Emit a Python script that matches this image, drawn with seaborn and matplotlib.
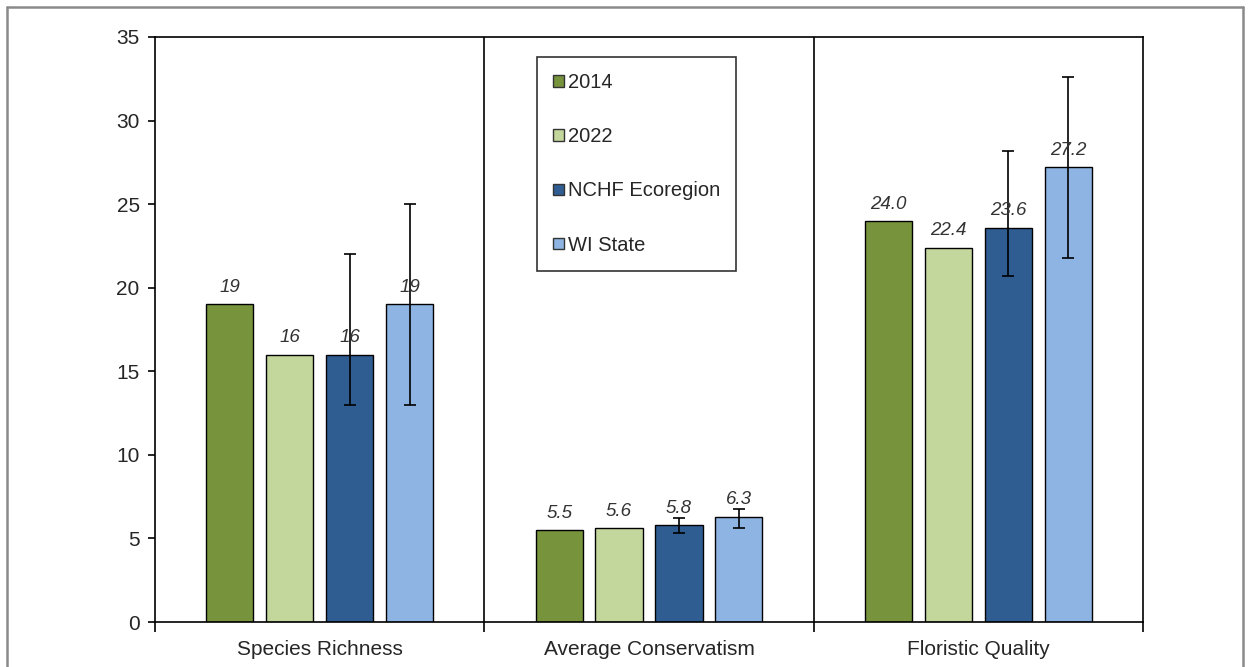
import matplotlib
matplotlib.use("Agg")
import matplotlib.pyplot as plt
import seaborn as sns
import pandas as pd
import numpy as np
from matplotlib.lines import Line2D

categories = ["Species Richness", "Average Conservatism", "Floristic Quality"]
series = ["2014", "2022", "NCHF Ecoregion", "WI State"]
values_2014 = [19, 5.5, 24.0]
values_2022 = [16, 5.6, 22.4]
values_nchf = [16, 5.8, 23.6]
values_wi = [19, 6.3, 27.2]
labels_2014 = ["19", "5.5", "24.0"]
labels_2022 = ["16", "5.6", "22.4"]
labels_nchf = ["16", "5.8", "23.6"]
labels_wi = ["19", "6.3", "27.2"]
# error bar extents (lower, upper) for the reference series
err_nchf_low = [3, 0.45, 2.9]
err_nchf_high = [6, 0.45, 4.6]
err_wi_low = [6, 0.7, 5.4]
err_wi_high = [6, 0.45, 5.4]
colors = ["#77933C", "#C3D69B", "#2F5D92", "#8DB4E2"]

rows = []
for s, vals in zip(series, [values_2014, values_2022, values_nchf, values_wi]):
    for c, v in zip(categories, vals):
        rows.append({"Metric": c, "Series": s, "Value": v})
df = pd.DataFrame(rows)

sns.set_style("white")
plt.rcParams["font.family"] = ["Liberation Sans", "DejaVu Sans"]

fig = plt.figure(figsize=(12.5, 6.67), dpi=100)
ax = fig.add_axes([155 / 1250, 1 - 622 / 667, (1143 - 155) / 1250, (622 - 37) / 667])

sns.barplot(data=df, x="Metric", y="Value", hue="Series", order=categories,
            hue_order=series, palette=colors, width=0.728, gap=0.214,
            edgecolor="black", linewidth=1.0, saturation=1, ax=ax, legend=True)

# locate bars per series from the drawn patches
bars = [p for p in ax.patches if p.get_height() > 0 and p.get_width() < 0.5]
bars_sorted = sorted(bars, key=lambda p: p.get_x())
centers = [p.get_x() + p.get_width() / 2 for p in bars_sorted]
heights = [p.get_height() for p in bars_sorted]
all_labels = []
for ci in range(3):
    all_labels += [labels_2014[ci], labels_2022[ci], labels_nchf[ci], labels_wi[ci]]
for xc, h, lab in zip(centers, heights, all_labels):
    ax.annotate(lab, (xc, h), xytext=(0, 6), textcoords="offset points",
                ha="center", va="bottom", fontsize=13.5, style="italic", color="#333333")

nchf_x = [centers[ci * 4 + 2] for ci in range(3)]
wi_x = [centers[ci * 4 + 3] for ci in range(3)]
ax.errorbar(nchf_x, values_nchf, yerr=[err_nchf_low, err_nchf_high], fmt="none",
            ecolor="black", elinewidth=1.2, capsize=4, capthick=1.2)
ax.errorbar(wi_x, values_wi, yerr=[err_wi_low, err_wi_high], fmt="none",
            ecolor="black", elinewidth=1.2, capsize=4, capthick=1.2)

ax.set_xlim(-0.5, 2.5)
ax.set_ylim(0, 35)
ax.set_yticks(range(0, 36, 5))
ax.set_xlabel("")
ax.set_ylabel("")
for x in [0.5, 1.5]:
    ax.axvline(x, color="black", lw=1.2)
for sp in ax.spines.values():
    sp.set_visible(True)
    sp.set_color("black")
    sp.set_linewidth(1.2)
ax.set_xticks([-0.5, 0.5, 1.5, 2.5], minor=True)
ax.tick_params(axis="x", which="major", length=0, labelsize=15, pad=13)
ax.tick_params(axis="x", which="minor", length=7, direction="out", color="black", width=1.2)
ax.tick_params(axis="y", length=5, direction="out", color="black", width=1.2, labelsize=15, pad=6)
ax.tick_params(left=True, bottom=True)
ax.tick_params(axis="x", which="minor", bottom=True)

handles = [plt.Rectangle((0, 0), 1, 1, facecolor=c, edgecolor="#333333", lw=1) for c in colors]
leg = ax.legend(handles, series, loc="upper left", bbox_to_anchor=(0.387, 0.966),
                frameon=True, fancybox=False, edgecolor="black", fontsize=14.5,
                labelspacing=1.75, handlelength=0.5, handleheight=0.5,
                handletextpad=0.2, borderpad=0.8, borderaxespad=0)
leg.get_frame().set_linewidth(1.2)

# outer gray frame
x0, x1, y0 = 7 / 1250, 1243 / 1250, 1 - 7 / 667
for xs, ys in [([x0, x1], [y0, y0]), ([x0, x0], [y0, 0]), ([x1, x1], [y0, 0])]:
    fig.add_artist(Line2D(xs, ys, transform=fig.transFigure, color="#8a8a8a", lw=1.8))

fig.savefig("out.png", dpi=100)
